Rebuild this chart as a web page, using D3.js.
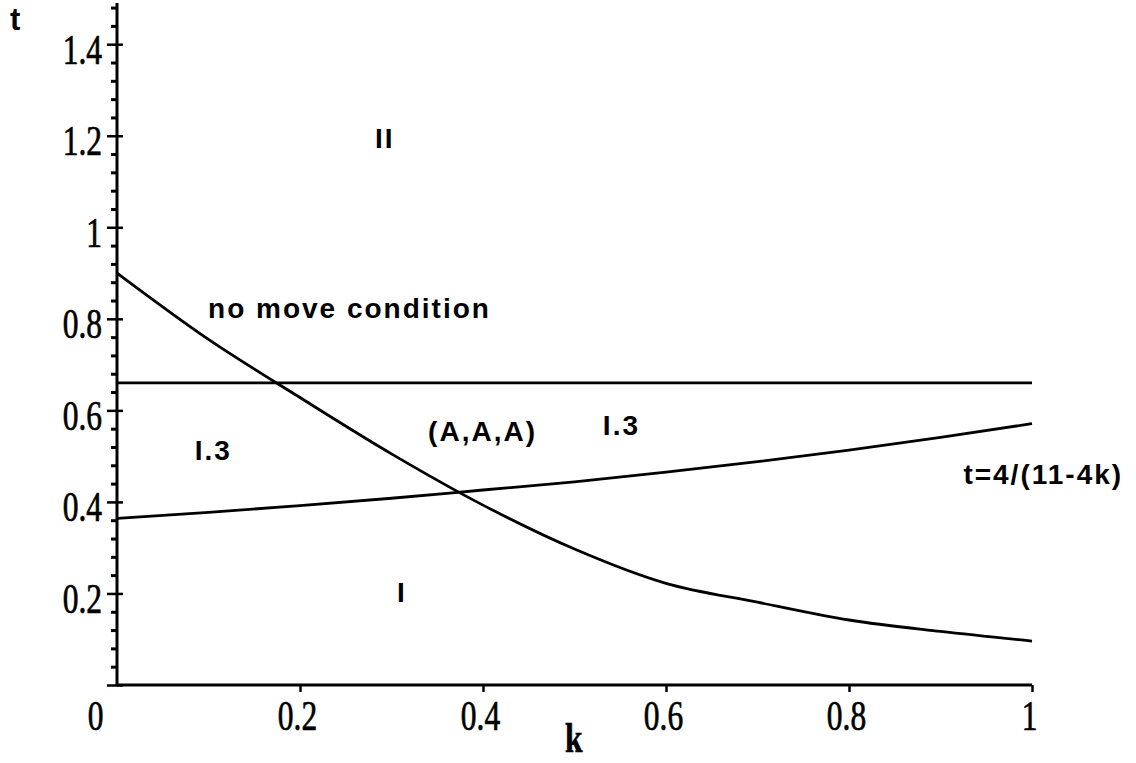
<!doctype html>
<html lang="en-US">
<head>
<meta charset="UTF-8">
<title>k-t regions</title>
<script src="https://cdn.jsdelivr.net/npm/d3@7"></script>
<style>
  body { margin: 0; background: #fff; }
  .num {
    font-family: "Liberation Serif", serif;
    font-size: 42px;
    stroke: #000;
    stroke-width: 0.7px;
    transform-box: fill-box;
    transform: scaleX(0.75);
  }
  .yaxis .tick text.num { transform-origin: right center; }
  .xaxis .tick text.num { transform-origin: center center; }
  .note {
    font-family: "Liberation Sans", Arial, sans-serif;
    font-weight: bold;
    font-size: 28px;
    letter-spacing: 2px;
  }
</style>
</head>
<body>

<div id="viz"></div>

<script type="text/javascript">

// values
var kVals = [0, 0.1, 0.2, 0.3, 0.4, 0.5, 0.6, 0.7, 0.8, 0.9, 1];
var noMoveT = [0.90, 0.755, 0.628, 0.505, 0.393, 0.297, 0.222, 0.181, 0.142, 0.117, 0.096];
var boundT = [0.364, 0.377, 0.392, 0.408, 0.426, 0.444, 0.465, 0.488, 0.513, 0.541, 0.571];
var flatK = [0, 1];
var flatT = [0.66, 0.66];

var xTicks = [0, 0.2, 0.4, 0.6, 0.8, 1];
var xTickLabels = ["0", "0.2", "0.4", "0.6", "0.8", "1"];
var yTicks = [0.2, 0.4, 0.6, 0.8, 1, 1.2, 1.4];
var yTickLabels = ["0.2", "0.4", "0.6", "0.8", "1", "1.2", "1.4"];

// region labels: text, k of left edge, t of baseline
var noteText = ["II", "no move condition", "I.3", "(A,A,A)", "I.3", "I", "t=4/(11-4k)"];
var noteK = [0.282, 0.0995, 0.085, 0.340, 0.531, 0.306, 0.925];
var noteT = [1.173, 0.802, 0.492, 0.533, 0.546, 0.181, 0.44];

var W = 1136, H = 763;
var margin = {left: 117, right: 104, top: 3, bottom: 78};

var svg = d3.select('#viz').append('svg').attr('width', W).attr('height', H)
  .style('background', '#fff');

var x = d3.scaleLinear().domain([0, 1]).range([margin.left, W - margin.right]);
var y = d3.scaleLinear().domain([0, 1.49]).range([H - margin.bottom, margin.top]);

// minor ticks on t axis, every 0.04
var minor = [];
for (var ii = 0; ii <= 37; ii++) {
  if (ii % 5 != 0) minor.push(ii * 0.04);
}
svg.append('g').attr('transform', 'translate(' + x(0) + ',0)')
  .call(d3.axisLeft(y).tickValues(minor).tickSize(6).tickFormat(''))
  .call(function(g){ g.select('.domain').remove(); })
  .selectAll('line').attr('stroke', '#000').attr('stroke-width', 3);

// major ticks on t axis (cross the axis)
var yAx = svg.append('g').attr('class', 'yaxis').attr('transform', 'translate(' + x(0) + ',0)')
  .call(d3.axisLeft(y).tickValues([0].concat(yTicks)).tickSize(10).tickPadding(5)
    .tickFormat(function(d){ var i = yTicks.indexOf(d); return i < 0 ? '' : yTickLabels[i]; }));
yAx.select('.domain').remove();
yAx.selectAll('.tick line').attr('x1', 6).attr('stroke', '#000').attr('stroke-width', 2.5);
yAx.selectAll('.tick text').attr('class', 'num').attr('dy', '0.45em').attr('fill', '#000');

// x axis
var xAx = svg.append('g').attr('class', 'xaxis').attr('transform', 'translate(0,' + y(0) + ')')
  .call(d3.axisBottom(x).tickValues(xTicks).tickSize(7).tickPadding(8)
    .tickFormat(function(d, i){ return xTickLabels[i]; }));
xAx.select('.domain').remove();
xAx.selectAll('.tick line').attr('stroke', '#000').attr('stroke-width', 2.5)
  .filter(function(d){ return d == 0; }).remove();
xAx.selectAll('.tick text').attr('class', 'num').attr('fill', '#000').attr('dx', -3)
  .filter(function(d){ return d == 0; }).attr('dx', -22);

// axis lines
svg.append('line').attr('x1', x(0)).attr('x2', x(1)).attr('y1', y(0)).attr('y2', y(0))
  .attr('stroke', '#000').attr('stroke-width', 3);
svg.append('line').attr('x1', x(0)).attr('x2', x(0)).attr('y1', y(0)).attr('y2', y(1.49))
  .attr('stroke', '#000').attr('stroke-width', 3);

// curves
var line = d3.line().x(function(d){ return x(d[0]); }).y(function(d){ return y(d[1]); })
  .curve(d3.curveMonotoneX);

var curves = [
  d3.zip(flatK, flatT),
  d3.zip(kVals, boundT),
  d3.zip(kVals, noMoveT)
];
svg.selectAll('path.curve').data(curves).enter().append('path')
  .attr('class', 'curve')
  .attr('d', line)
  .attr('fill', 'none')
  .attr('stroke', '#000')
  .attr('stroke-width', 2.8);

// region notes
svg.selectAll('text.note').data(noteText).enter().append('text')
  .attr('class', 'note')
  .attr('x', function(d, i){ return x(noteK[i]); })
  .attr('y', function(d, i){ return y(noteT[i]); })
  .text(function(d){ return d; });

// axis titles
svg.append('text').attr('class', 'note').attr('x', 10).attr('y', 30)
  .style('font-size', '31px').text('t');
svg.append('text').attr('class', 'num')
  .attr('x', 565).attr('y', 752)
  .style('font-weight', 'bold')
  .style('transform-origin', 'left center')
  .text('k');

</script>

</body>
</html>
